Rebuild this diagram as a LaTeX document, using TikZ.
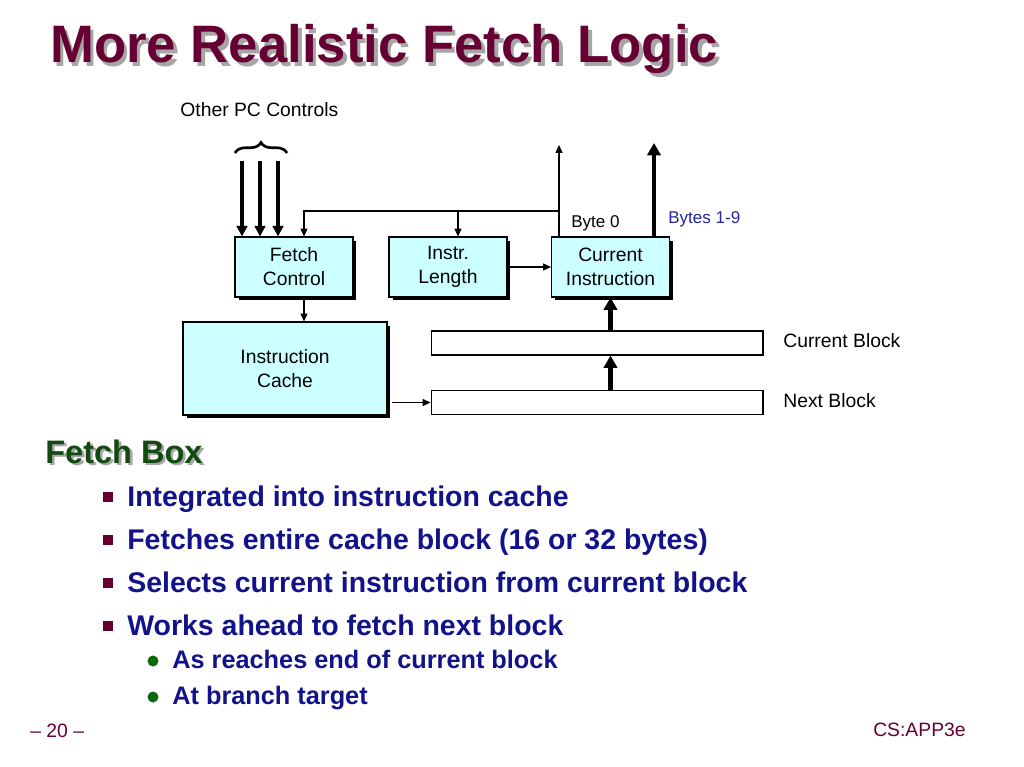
\documentclass[tikz,border=0pt]{standalone}
\usepackage{fontspec}
\setmainfont{Liberation Sans}
\usetikzlibrary{arrows.meta, positioning, shadows, decorations.pathreplacing, calc}

\definecolor{titlered}{HTML}{660033}
\definecolor{boxcyan}{HTML}{CCFFFF}
\definecolor{navytext}{HTML}{12128A}
\definecolor{headgreen}{HTML}{124A12}
\definecolor{bytesblue}{HTML}{2525A0}
\definecolor{bulletgreen}{HTML}{0A6A0A}

% text with a grey drop shadow behind it
\newcommand{\shadowtext}[3]{\makebox[0pt][l]{\hspace{#1}\raisebox{-#1}{\textcolor{black!35}{#3}}}\textcolor{#2}{#3}}

\begin{document}
\begin{tikzpicture}[
  x=0.02cm, y=-0.02cm,
  every node/.style={font=\fontsize{11}{13.6}\selectfont},
  unit/.style={draw=black, line width=0.6pt, fill=boxcyan, minimum width=2.36cm, minimum height=1.2cm, align=center, inner sep=2pt,
    drop shadow={shadow xshift=0.07cm, shadow yshift=-0.07cm, fill=black, opacity=1}},
  blk/.style={draw=black, line width=0.6pt, fill=white, minimum width=6.64cm, minimum height=0.48cm, inner sep=0pt},
  lbl/.style={anchor=base west, inner sep=0pt},
  small/.style={lbl, font=\fontsize{9.7}{11}\selectfont},
  wire/.style={-{Triangle[length=4.5pt, width=4pt]}, line width=0.6pt},
  bus/.style={-{Triangle[length=7pt, width=7.5pt]}, line width=2.6pt},
  pcbus/.style={-{Triangle[length=6pt, width=6pt]}, line width=2.2pt},
  titletext/.style={anchor=base west, inner sep=0pt, font=\bfseries\fontsize{30}{34}\selectfont},
  headtext/.style={anchor=base west, inner sep=0pt, font=\bfseries\fontsize{18.5}{22}\selectfont},
  item/.style={anchor=base west, inner sep=0pt, text=navytext, font=\bfseries\fontsize{16.2}{19}\selectfont},
  subitem/.style={anchor=base west, inner sep=0pt, text=navytext, font=\bfseries\fontsize{14.4}{17}\selectfont},
  sqbullet/.style={fill=titlered, minimum size=0.2cm, inner sep=0pt},
  dotbullet/.style={circle, fill=bulletgreen, minimum size=0.22cm, inner sep=0pt},
  foot/.style={anchor=base west, inner sep=0pt, text=titlered, font=\fontsize{11}{13}\selectfont}
]

\fill[white] (0,0) rectangle (1024,767);
\useasboundingbox (0,0) rectangle (1024,767);

% Title
\node[titletext] (title) at (50,63) {\shadowtext{2pt}{titlered}{More Realistic Fetch Logic}};

% === UNITS ===
\node[unit] (fc) at (294,267)   {Fetch\\Control};
\node[unit] (il) at (448,267)   {Instr.\\Length};
\node[unit] (ci) at (610.5,267) {Current\\Instruction};
\node[unit, minimum width=4.08cm, minimum height=1.86cm] (ic) at (285,368.5) {Instruction\\Cache};

% === BLOCK REGISTERS ===
\node[blk] (cb) at (597,343) {};
\node[blk] (nb) at (597,402.5) {};
\node[lbl] (cblbl) at (783,347) {Current Block};
\node[lbl] (nblbl) at (783,407) {Next Block};

% Other PC controls
\node[lbl] (pclbl) at (180,116) {Other PC Controls};
\draw[decorate, decoration={brace, amplitude=6pt}, line width=1.5pt] (235,153) -- (287,153);
\coordinate (pc1) at (242,161);
\coordinate (pc2) at (260,161);
\coordinate (pc3) at (278,161);
\draw[pcbus] (pc1) -- (pc1 |- fc.north);
\draw[pcbus] (pc2) -- (pc2 |- fc.north);
\draw[pcbus] (pc3) -- (pc3 |- fc.north);

% Byte 0 feedback
\coordinate (b0top) at (559,145);
\coordinate (fbk) at (559,211);
\coordinate (fcin) at ($(fc.north)+(10,0)$);
\coordinate (ilin) at ($(il.north)+(10,0)$);
\draw[wire] (b0top |- ci.north) -- (b0top);
\draw[wire] (fbk) -| (fcin);
\draw[wire] (ilin |- fbk) -- (ilin);
\node[small] (b0lbl) at (571,227) {Byte 0};

% Bytes 1-9
\coordinate (b19top) at (654,143);
\draw[bus] (b19top |- ci.north) -- (b19top);
\node[small, text=bytesblue] (b19lbl) at (668,223) {Bytes 1-9};

% Remaining connections
\coordinate (fcout) at ($(fc.south)+(10,0)$);
\draw[wire] (fcout) -- (fcout |- ic.north);
\draw[wire] (il.east) -- (ci.west);
\draw[wire] (ic.east |- nb.west) ++(4,0) -- (nb.west);
\draw[bus] (nb.north -| ci.south) -- (cb.south -| ci.south);
\draw[bus] (cb.north -| ci.south) -- (ci.south);

% === TEXT ===
\node[headtext] (head) at (45,463) {\shadowtext{1.5pt}{headgreen}{Fetch Box}};

\node[sqbullet] (sq1) at (108,497) {};
\node[sqbullet] (sq2) at (108,540) {};
\node[sqbullet] (sq3) at (108,583) {};
\node[sqbullet] (sq4) at (108,626) {};
\node[item] (it1) at (127,506) {Integrated into instruction cache};
\node[item] (it2) at (127,549) {Fetches entire cache block (16 or 32 bytes)};
\node[item] (it3) at (127,592) {Selects current instruction from current block};
\node[item] (it4) at (127,635) {Works ahead to fetch next block};

\node[dotbullet] (dot1) at (153,661) {};
\node[dotbullet] (dot2) at (153,697) {};
\node[subitem] (sub1) at (172,668) {As reaches end of current block};
\node[subitem] (sub2) at (172,704) {At branch target};

% Footer
\node[foot] (page) at (30,737) {-- 20 --};
\node[foot, anchor=base east] (course) at (966,736) {CS:APP3e};

\end{tikzpicture}
\end{document}
